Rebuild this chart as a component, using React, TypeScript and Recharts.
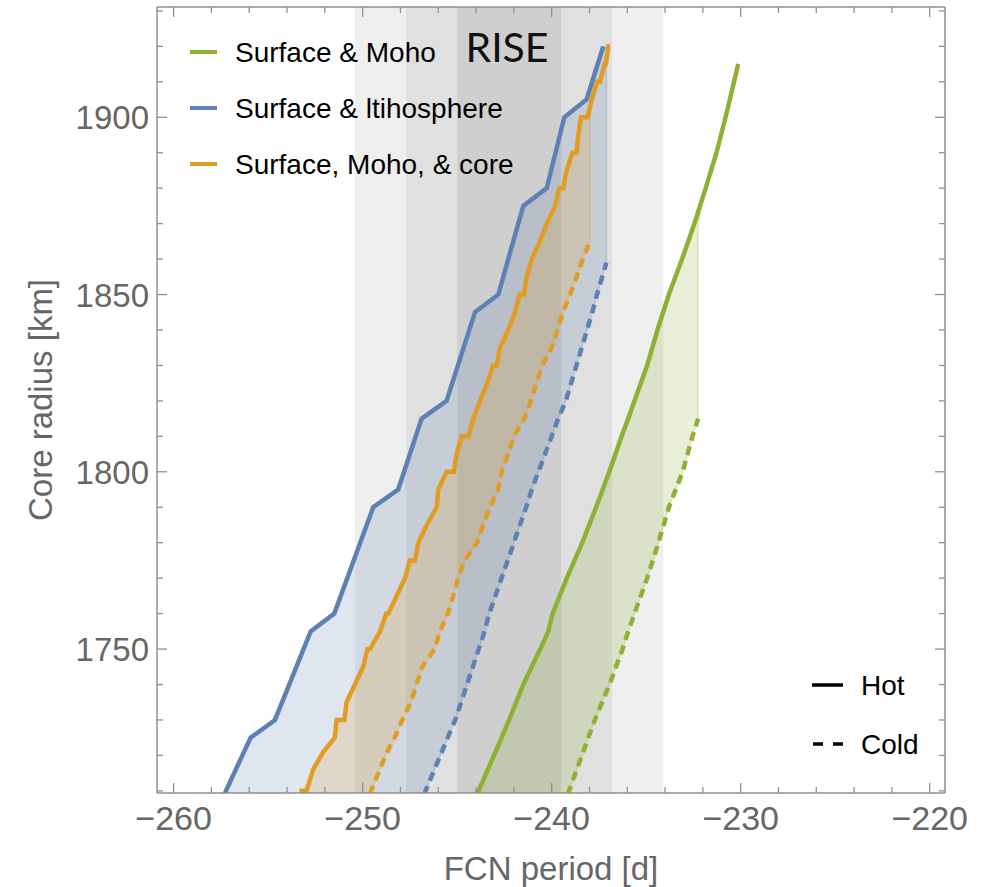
import { Area, ComposedChart, Line, ReferenceArea, XAxis, YAxis } from "recharts";

const W = 983;
const H = 887;

const BLUE = "#5E81B5";
const ORANGE = "#E19C24";
const GREEN = "#8FB032";
const GRAY = "#666666";
const FRAME = "#8f8f8f";
const FONT = "'Liberation Sans', Arial, Helvetica, sans-serif";
const LW = 4.5;
const DASH = "9 6";

// RISE bands on the FCN period (days), widest first
const riseBands = [
  [-250.4, -234.1],
  [-247.7, -236.8],
  [-245.0, -239.5],
];
const bandColors = ["#efefef", "#e0e0e0", "#cfcfcf"];

// surface & lithosphere (blue)
const blueRadius = [1709, 1725, 1730, 1755, 1760, 1790, 1795, 1815, 1820, 1845, 1850, 1859, 1875, 1880, 1900, 1905, 1920];
const blueHot = [-257.32, -255.93, -254.64, -252.75, -251.5, -249.44, -248.12, -246.88, -245.56, -244.06, -242.82, -242.35, -241.5, -240.26, -239.33, -238.15, -237.27];
const blueCold = [-246.75, -245.5, -245.1, -243.55, -243.3, -241.35, -241.05, -239.65, -239.25, -237.85, -237.6, -237.1, null, null, null, null, null];

// surface, moho & core (orange) - stepped
const orangeRadius = [
  1709, 1710, 1710, 1716, 1721, 1725, 1730, 1730, 1735, 1740, 1745, 1750, 1750, 1755, 1760, 1760, 1765, 1770, 1775, 1775,
  1780, 1785, 1790, 1795, 1800, 1800, 1805, 1810, 1810, 1815, 1820, 1825, 1830, 1830, 1835, 1840, 1845, 1850, 1850, 1855,
  1860, 1865, 1870, 1875, 1880, 1880, 1885, 1890, 1890, 1895, 1900, 1900, 1905, 1910, 1910, 1915, 1915, 1920, 1920,
];
const orangeHot = [
  -253.23, -253.23, -252.97, -252.62, -252.08, -251.47, -251.38, -250.97, -250.85, -250.41, -249.97, -249.75, -249.61, -249.08,
  -248.75, -248.64, -248.2, -247.76, -247.5, -247.23, -247.06, -246.61, -246.08, -246.0, -245.56, -245.17, -245.03, -244.76,
  -244.41, -244.15, -243.79, -243.41, -243.1, -242.91, -242.74, -242.3, -241.94, -241.7, -241.47, -241.32, -241.06, -240.62,
  -240.26, -239.82, -239.6, -239.39, -239.21, -238.9, -238.68, -238.59, -238.45, -238.1, -237.88, -237.6, -237.44, -237.2,
  -237.13, -237.0, -236.92,
];
const orangeCold = [
  -249.6, -249.55, -249.55, -249.1, -248.7, -248.3, -247.9, -247.9, -247.45, -247.15, -246.85, -246.2, -246.2, -245.9, -245.5,
  -245.5, -245.2, -244.95, -244.6, -244.6, -243.95, -243.62, -243.26, -242.83, -242.65, -242.65, -242.3, -242.0, -242.0,
  -241.45, -241.1, -240.8, -240.5, -240.5, -240.0, -239.7, -239.4, -239.03, -239.03, -238.68, -238.35, -237.97,
  null, null, null, null, null, null, null, null, null, null, null, null, null, null, null, null, null,
];

// surface & moho (green)
const greenRadius = [1709, 1720, 1730, 1740, 1750, 1755, 1760, 1770, 1780, 1790, 1800, 1810, 1815, 1820, 1830, 1840, 1850, 1860, 1870, 1880, 1890, 1900, 1910, 1915];
const greenHot = [-243.95, -243.05, -242.25, -241.5, -240.6, -240.18, -239.95, -239.2, -238.38, -237.65, -236.95, -236.3, -235.95, -235.62, -234.95, -234.4, -233.8, -233.1, -232.45, -231.85, -231.28, -230.8, -230.35, -230.13];
const greenCold = [-239.15, -238.4, -237.72, -236.94, -236.25, -235.95, -235.62, -234.95, -234.35, -233.8, -233.07, -232.55, -232.25, null, null, null, null, null, null, null, null, null, null, null];

const periodTicks = [-260, -258, -256, -254, -252, -250, -248, -246, -244, -242, -240, -238, -236, -234, -232, -230, -228, -226, -224, -222, -220];
const radiusTicks = [1710, 1720, 1730, 1740, 1750, 1760, 1770, 1780, 1790, 1800, 1810, 1820, 1830, 1840, 1850, 1860, 1870, 1880, 1890, 1900, 1910, 1920, 1930];

const legendNames = ["Surface & Moho", "Surface & ltihosphere", "Surface, Moho, & core"];
const legendColors = [GREEN, BLUE, ORANGE];

const lineRows = (radius: number[], vals: (number | null)[]) =>
  radius.map((r, i) => ({ r, v: vals[i] })).filter((d) => d.v != null);

// horizontal filling: from the hot curve to the cold one (held at its last value above its end)
const fillRows = (radius: number[], hot: number[], cold: (number | null)[]) => {
  let last = hot[0];
  return radius.map((r, i) => {
    if (cold[i] != null) last = cold[i] as number;
    return { r, band: [hot[i], Math.max(hot[i], last)] };
  });
};

const fmt = (v: number) => (v < 0 ? "\u2212" + Math.abs(v) : String(v));
const TM = 8;

function BottomTick({ x, y, payload }: any) {
  const v = payload.value;
  const major = v % 10 === 0;
  const ay = y - TM;
  return (
    <g>
      <line x1={x} x2={x} y1={ay} y2={ay - (major ? 10 : 6)} stroke={FRAME} strokeWidth={1.3} />
      {major && (
        <text x={x} y={ay + 37} textAnchor="middle" fontSize={34} fill={GRAY} fontFamily={FONT}>
          {fmt(v)}
        </text>
      )}
    </g>
  );
}

function TopTick({ x, y, payload }: any) {
  const major = payload.value % 10 === 0;
  const ay = y + TM;
  return <line x1={x} x2={x} y1={ay} y2={ay + (major ? 10 : 6)} stroke={FRAME} strokeWidth={1.3} />;
}

function LeftTick({ x, y, payload }: any) {
  const v = payload.value;
  const major = v % 50 === 0;
  const ax = x + TM;
  return (
    <g>
      <line x1={ax} x2={ax + (major ? 10 : 6)} y1={y} y2={y} stroke={FRAME} strokeWidth={1.3} />
      {major && (
        <text x={x} y={y + 12} textAnchor="end" fontSize={33} fill={GRAY} fontFamily={FONT}>
          {v}
        </text>
      )}
    </g>
  );
}

function RightTick({ x, y, payload }: any) {
  const major = payload.value % 50 === 0;
  const ax = x - TM;
  return <line x1={ax} x2={ax - (major ? 10 : 6)} y1={y} y2={y} stroke={FRAME} strokeWidth={1.3} />;
}

export default function App() {
  const xDomain = [-260.88, -219.19];
  const yDomain = [1709.4, 1931.1];
  const ax = { xAxisId: "b", yAxisId: "l" };

  return (
    <div style={{ position: "absolute", left: 0, top: 0, width: W, height: H, background: "#fff" }}>
      <ComposedChart width={W} height={H} layout="vertical" margin={{ top: 2, right: 30, bottom: 44, left: 57 }}>
        <XAxis xAxisId="b" type="number" orientation="bottom" domain={xDomain} allowDataOverflow ticks={periodTicks} interval={0}
          height={50} tickSize={0} tickMargin={TM} tickLine={false} tick={<BottomTick />} axisLine={{ stroke: FRAME, strokeWidth: 1.5 }} />
        <XAxis xAxisId="t" type="number" orientation="top" domain={xDomain} allowDataOverflow ticks={periodTicks} interval={0}
          height={5} tickSize={0} tickMargin={TM} tickLine={false} tick={<TopTick />} axisLine={{ stroke: FRAME, strokeWidth: 1.5 }} />
        <YAxis yAxisId="l" type="number" dataKey="r" orientation="left" reversed domain={yDomain} allowDataOverflow ticks={radiusTicks} interval={0}
          width={100} tickSize={0} tickMargin={TM} tickLine={false} tick={<LeftTick />} axisLine={{ stroke: FRAME, strokeWidth: 1.5 }} />
        <YAxis yAxisId="r" type="number" dataKey="r" orientation="right" reversed domain={yDomain} allowDataOverflow ticks={radiusTicks} interval={0}
          width={8} tickSize={0} tickMargin={TM} tickLine={false} tick={<RightTick />} axisLine={{ stroke: FRAME, strokeWidth: 1.5 }} />

        {riseBands.map((b, i) => (
          <ReferenceArea key={i} {...ax} x1={b[0]} x2={b[1]} fill={bandColors[i]} fillOpacity={1} stroke="none" ifOverflow="hidden" />
        ))}

        <Area {...ax} data={fillRows(blueRadius, blueHot, blueCold)} dataKey="band" type="linear" fill={BLUE} fillOpacity={0.2}
          stroke={BLUE} strokeOpacity={0.25} strokeWidth={1.5} dot={false} activeDot={false} isAnimationActive={false} />
        <Area {...ax} data={fillRows(orangeRadius, orangeHot, orangeCold)} dataKey="band" type="linear" fill={ORANGE} fillOpacity={0.2}
          stroke={ORANGE} strokeOpacity={0.25} strokeWidth={1.5} dot={false} activeDot={false} isAnimationActive={false} />
        <Area {...ax} data={fillRows(greenRadius, greenHot, greenCold)} dataKey="band" type="linear" fill={GREEN} fillOpacity={0.2}
          stroke={GREEN} strokeOpacity={0.25} strokeWidth={1.5} dot={false} activeDot={false} isAnimationActive={false} />

        <Line {...ax} data={lineRows(blueRadius, blueCold)} dataKey="v" type="linear" stroke={BLUE} strokeWidth={LW} strokeDasharray={DASH} dot={false} activeDot={false} isAnimationActive={false} />
        <Line {...ax} data={lineRows(orangeRadius, orangeCold)} dataKey="v" type="linear" stroke={ORANGE} strokeWidth={LW} strokeDasharray={DASH} dot={false} activeDot={false} isAnimationActive={false} />
        <Line {...ax} data={lineRows(greenRadius, greenCold)} dataKey="v" type="linear" stroke={GREEN} strokeWidth={LW} strokeDasharray={DASH} dot={false} activeDot={false} isAnimationActive={false} />
        <Line {...ax} data={lineRows(greenRadius, greenHot)} dataKey="v" type="linear" stroke={GREEN} strokeWidth={LW} dot={false} activeDot={false} isAnimationActive={false} />
        <Line {...ax} data={lineRows(blueRadius, blueHot)} dataKey="v" type="linear" stroke={BLUE} strokeWidth={LW} dot={false} activeDot={false} isAnimationActive={false} />
        <Line {...ax} data={lineRows(orangeRadius, orangeHot)} dataKey="v" type="linear" stroke={ORANGE} strokeWidth={LW} dot={false} activeDot={false} isAnimationActive={false} />
      </ComposedChart>

      <svg width={W} height={H} style={{ position: "absolute", left: 0, top: 0, pointerEvents: "none" }}>
        <text x={507} y={62} textAnchor="middle" fontSize={41} fill="#111" fontFamily="Lato, 'Open Sans', sans-serif">RISE</text>

        {legendNames.map((name, i) => (
          <g key={name}>
            <line x1={190} x2={217} y1={52 + i * 56} y2={52 + i * 56} stroke={legendColors[i]} strokeWidth={4} />
            <text x={235} y={62 + i * 56} fontSize={28} fill="#000" fontFamily={FONT}>{name}</text>
          </g>
        ))}

        <line x1={812} x2={843} y1={685} y2={685} stroke="#000" strokeWidth={3.5} />
        <text x={861} y={695} fontSize={28} fill="#000" fontFamily={FONT}>Hot</text>
        <line x1={813} x2={843} y1={744} y2={744} stroke="#000" strokeWidth={3.5} strokeDasharray="10 10" />
        <text x={861} y={754} fontSize={28} fill="#000" fontFamily={FONT}>Cold</text>

        <text x={551} y={880} textAnchor="middle" fontSize={33} fill={GRAY} fontFamily={FONT}>FCN period [d]</text>
        <text x={52} y={400} textAnchor="middle" fontSize={33} fill={GRAY} fontFamily={FONT} transform="rotate(-90 52 400)">
          Core radius [km]
        </text>
      </svg>
    </div>
  );
}
